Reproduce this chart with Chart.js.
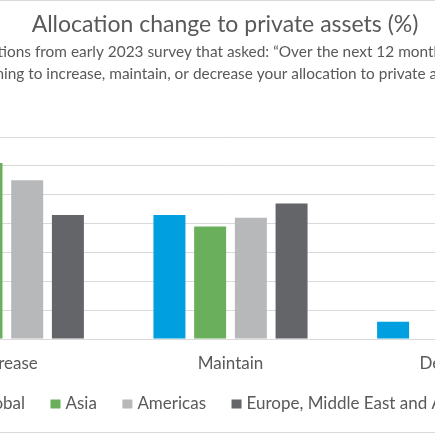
<!DOCTYPE html>
<html>
<head>
<meta charset="utf-8">
<script src="https://cdn.jsdelivr.net/npm/chart.js@4.4.0/dist/chart.umd.min.js"></script>
<style>
  html, body { margin: 0; padding: 0; background: #fff; overflow: hidden; width: 435px; height: 435px; }
  #frame { position: absolute; top: 0; left: -175px; width: 800px; height: 433px; box-sizing: border-box;
           border-top: 1px solid #d9d9d9; border-bottom: 1px solid #d9d9d9; }
  #wrap { position: relative; width: 800px; height: 431px; }
</style>
</head>
<body>
<div id="frame"><div id="wrap"><canvas id="c"></canvas></div></div>
<script>
const categories = ["Increase", "Maintain", "Decrease"];
const seriesNames = ["Global", "Asia", "Americas", "Europe, Middle East and Africa"];
const globalValues = [51, 43, 6];
const asiaValues = [61, 39, 0];
const americasValues = [55, 42, 3];
const emeaValues = [43, 47, 10];
const yTicks = [0, 10, 20, 30, 40, 50, 60, 70];
const seriesColors = ["#009FDF", "#6AAF5C", "#B7B8BA", "#636569"];

const FONT = "Lato, 'Open Sans', sans-serif";
const TEXT = "#595959";

// nudge the legend box (left and up) after layout
const legendShift = {
  id: "legendShift",
  afterLayout(chart) {
    const lg = chart.legend;
    if (lg) { lg.left -= 4.5; lg.right -= 4.5; lg.top -= 7.7; lg.bottom -= 7.7; }
  }
};

const values = [globalValues, asiaValues, americasValues, emeaValues];
new Chart(document.getElementById("c"), {
  type: "bar",
  data: {
    labels: categories,
    datasets: seriesNames.map((n, i) => ({
      label: n,
      data: values[i],
      backgroundColor: seriesColors[i],
      borderWidth: 0,
      categoryPercentage: 0.728,
      barPercentage: 0.786
    }))
  },
  plugins: [legendShift],
  options: {
    responsive: true,
    maintainAspectRatio: false,
    animation: false,
    layout: { padding: { left: 59, right: 59, top: 0, bottom: 1.8 } },
    plugins: {
      title: {
        display: true,
        text: "Allocation change to private assets (%)",
        color: TEXT,
        font: { family: FONT, size: 23, weight: "normal", lineHeight: 1.2 },
        padding: { top: 10, bottom: 2 }
      },
      subtitle: {
        display: true,
        text: ["Expectations from early 2023 survey that asked: \u201cOver the next 12 months, are you",
               "planning to increase, maintain, or decrease your allocation to private assets?\u201d"],
        color: TEXT,
        font: { family: FONT, size: 15.4, weight: "normal", lineHeight: 1.43 },
        padding: { top: 0, bottom: 52.4 }
      },
      legend: {
        position: "bottom",
        labels: {
          color: TEXT,
          font: { family: FONT, size: 17 },
          boxWidth: 3, boxHeight: 2, padding: 29,
          generateLabels: chart => Chart.defaults.plugins.legend.labels.generateLabels(chart).map(l => ({
            ...l, lineWidth: 7, strokeStyle: l.fillStyle, lineJoin: "miter"
          }))
        }
      },
      tooltip: { enabled: false }
    },
    scales: {
      x: {
        grid: { display: false, tickLength: 14.8 },
        border: { color: "#d9d9d9" },
        ticks: { color: TEXT, font: { family: FONT, size: 17, lineHeight: 1.2 }, padding: 0 }
      },
      y: {
        min: 0, max: 70,
        afterBuildTicks: s => { s.ticks = yTicks.map(v => ({ value: v })); },
        afterFit: s => { s.width = 11; },
        grid: { color: "#d9d9d9", drawTicks: false },
        border: { display: false },
        ticks: { color: TEXT, font: { family: FONT, size: 14 }, padding: 6 }
      }
    }
  }
});
</script>
</body>
</html>
